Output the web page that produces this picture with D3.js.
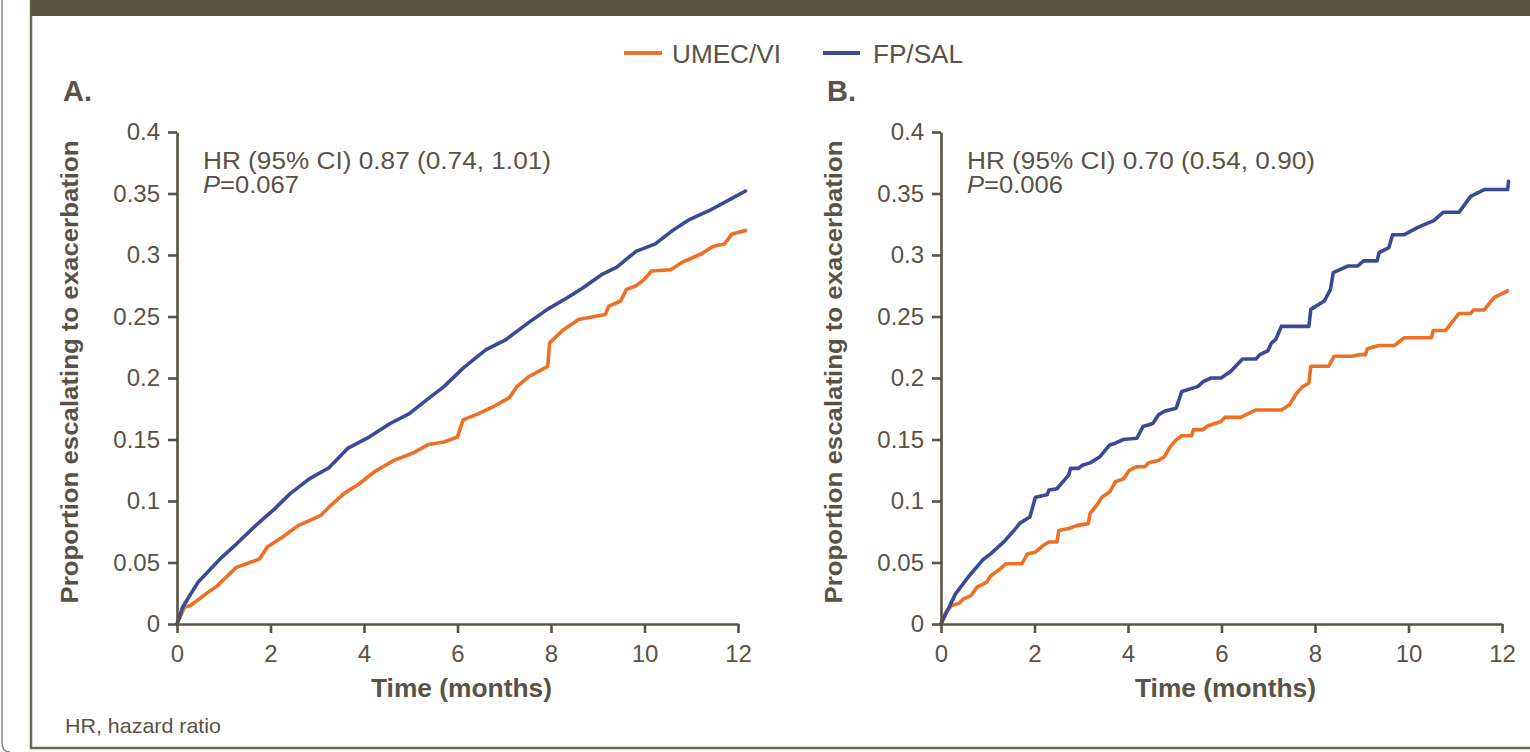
<!DOCTYPE html>
<html>
<head>
<meta charset="utf-8">
<script src="https://cdn.jsdelivr.net/npm/d3@7"></script>
<style>
  html, body { margin: 0; padding: 0; background: #ffffff; }
  svg { display: block; }
  text { font-family: "Liberation Sans", Arial, Helvetica, sans-serif; fill: #595246; }
</style>
</head>
<body>
<svg id="chart" width="1530" height="752"></svg>
<script>
// ---------------- DATA ----------------
const seriesNames = ["UMEC/VI", "FP/SAL"];
const panelLabels = ["A.", "B."];
const hrTexts = ["HR (95% CI) 0.87 (0.74, 1.01)", "HR (95% CI) 0.70 (0.54, 0.90)"];
const pTexts = ["=0.067", "=0.006"];
const xTickValues = [0, 2, 4, 6, 8, 10, 12];
const xTickLabels = ["0", "2", "4", "6", "8", "10", "12"];
const yTickValues = [0, 0.05, 0.1, 0.15, 0.2, 0.25, 0.3, 0.35, 0.4];
const yTickLabels = ["0", "0.05", "0.1", "0.15", "0.2", "0.25", "0.3", "0.35", "0.4"];

// Panel A – FP/SAL
const aFpTime = [0,0.12,0.45,0.95,1.27,1.68,2.1,2.42,2.83,3.25,3.66,4.11,4.56,4.97,5.3,5.71,6.12,6.61,7.03,7.52,7.93,8.34,8.67,9.08,9.4,9.82,10.23,10.64,10.97,11.38,11.87,12.16];
const aFpVal  = [0,0.0136,0.034,0.054,0.065,0.080,0.094,0.106,0.118,0.127,0.143,0.152,0.163,0.171,0.181,0.193,0.208,0.223,0.231,0.245,0.256,0.265,0.273,0.284,0.290,0.303,0.309,0.321,0.329,0.336,0.346,0.352];
// Panel A – UMEC/VI
const aUmTime = [0,0.16,0.29,0.62,0.86,1.27,1.56,1.77,1.93,2.26,2.59,3.08,3.25,3.57,3.9,4.23,4.64,5.05,5.38,5.71,6.0,6.12,6.45,6.78,7.11,7.27,7.52,7.93,7.97,8.26,8.59,9.16,9.24,9.49,9.61,9.82,9.99,10.15,10.56,10.8,11.22,11.46,11.71,11.87,12.16];
const aUmVal  = [0,0.0136,0.015,0.0245,0.031,0.046,0.050,0.053,0.0626,0.0707,0.080,0.0884,0.095,0.106,0.114,0.124,0.133,0.139,0.146,0.148,0.152,0.166,0.171,0.177,0.184,0.193,0.201,0.2095,0.2286,0.239,0.2476,0.2517,0.2585,0.2626,0.272,0.275,0.280,0.287,0.288,0.294,0.301,0.307,0.309,0.317,0.320];
// Panel B – FP/SAL
const bFpTime = [0,0.1,0.31,0.6,0.89,1.06,1.35,1.56,1.69,1.9,2.02,2.27,2.31,2.48,2.73,2.77,2.94,3.02,3.19,3.4,3.61,3.73,3.9,4.19,4.32,4.53,4.65,4.78,5.03,5.15,5.49,5.61,5.78,5.99,6.2,6.45,6.74,6.82,6.99,7.07,7.16,7.28,7.87,7.91,8.2,8.33,8.39,8.7,8.91,9.04,9.33,9.37,9.58,9.66,9.91,10.2,10.54,10.74,11.08,11.33,11.62,12.12,12.14];
const bFpVal  = [0,0.008,0.0245,0.039,0.052,0.057,0.067,0.076,0.082,0.087,0.103,0.105,0.109,0.110,0.121,0.1265,0.1265,0.129,0.131,0.136,0.1456,0.147,0.150,0.151,0.1605,0.163,0.170,0.173,0.1755,0.189,0.193,0.197,0.200,0.200,0.2054,0.2155,0.2155,0.219,0.222,0.2286,0.2313,0.242,0.242,0.2558,0.2626,0.272,0.2857,0.291,0.291,0.2952,0.2952,0.302,0.306,0.3165,0.3165,0.3224,0.328,0.3347,0.3347,0.3477,0.3532,0.3532,0.360];
// Panel B – UMEC/VI
const bUmTime = [0,0.1,0.23,0.39,0.48,0.64,0.77,0.98,1.06,1.27,1.39,1.73,1.85,2.02,2.19,2.31,2.48,2.52,2.73,2.9,3.15,3.19,3.36,3.44,3.61,3.73,3.9,4.03,4.19,4.36,4.44,4.65,4.78,4.9,5.03,5.15,5.36,5.4,5.61,5.7,5.99,6.07,6.41,6.57,6.74,7.28,7.45,7.61,7.74,7.87,7.91,8.29,8.41,8.79,8.96,9.08,9.12,9.37,9.7,9.91,10.49,10.53,10.79,11.08,11.33,11.39,11.62,11.83,12.12];
const bUmVal  = [0,0.0095,0.015,0.0169,0.0204,0.023,0.030,0.034,0.039,0.045,0.049,0.049,0.057,0.0585,0.064,0.0667,0.0667,0.076,0.0776,0.080,0.0816,0.090,0.098,0.103,0.1075,0.1156,0.118,0.125,0.1279,0.1279,0.131,0.133,0.136,0.144,0.1497,0.153,0.153,0.158,0.158,0.161,0.1646,0.168,0.168,0.171,0.174,0.174,0.178,0.1878,0.193,0.196,0.2095,0.2095,0.2177,0.2177,0.219,0.219,0.2237,0.2264,0.2264,0.2327,0.2327,0.2386,0.2386,0.2525,0.2525,0.2553,0.2553,0.2653,0.2708];

const colors = { "UMEC/VI": "#ee7026", "FP/SAL": "#3c4997" };
const inkColor = "#595246";

// ---------------- DRAW ----------------
const svg = d3.select("#chart");

// outer frame line and inner box
svg.append("path")
  .attr("d", "M2,0 L2,742 Q2,752 10,752")
  .attr("fill", "none").attr("stroke", "#8d887d").attr("stroke-width", 1.5);
svg.append("rect")
  .attr("x", 31).attr("y", -10).attr("width", 1520).attr("height", 758)
  .attr("fill", "none").attr("stroke", "#6c6659").attr("stroke-width", 2.5);
svg.append("rect")
  .attr("x", 31).attr("y", 0).attr("width", 1510).attr("height", 16)
  .attr("fill", "#5a5244");

// legend
const legendItems = [
  { name: seriesNames[0], x0: 624, x1: 662, tx: 672, tw: 109 },
  { name: seriesNames[1], x0: 823, x1: 860, tx: 873, tw: 90 }
];
legendItems.forEach(it => {
  svg.append("line")
    .attr("x1", it.x0).attr("x2", it.x1).attr("y1", 53).attr("y2", 53)
    .attr("stroke", colors[it.name]).attr("stroke-width", 4);
  svg.append("text")
    .attr("x", it.tx).attr("y", 63)
    .attr("font-size", 25)
    .attr("textLength", it.tw).attr("lengthAdjust", "spacingAndGlyphs")
    .text(it.name);
});

// footer
svg.append("text")
  .attr("x", 65).attr("y", 733).attr("font-size", 21)
  .attr("textLength", 156).attr("lengthAdjust", "spacingAndGlyphs")
  .text("HR, hazard ratio");

const panels = [
  { left: 177, label: panelLabels[0], hr: hrTexts[0], p: pTexts[0],
    series: [
      { name: "FP/SAL", t: aFpTime, v: aFpVal },
      { name: "UMEC/VI", t: aUmTime, v: aUmVal }
    ] },
  { left: 941, label: panelLabels[1], hr: hrTexts[1], p: pTexts[1],
    series: [
      { name: "FP/SAL", t: bFpTime, v: bFpVal },
      { name: "UMEC/VI", t: bUmTime, v: bUmVal }
    ] }
];

const plotW = 561, plotTop = 132, plotBottom = 624;

panels.forEach(pn => {
  const x = d3.scaleLinear().domain([0, 12]).range([pn.left, pn.left + plotW]);
  const y = d3.scaleLinear().domain([0, 0.4]).range([plotBottom, plotTop]);
  const g = svg.append("g");

  // curves
  const line = d3.line().x(d => x(d[0])).y(d => y(d[1])).curve(d3.curveLinear);
  pn.series.slice().reverse().forEach(s => {
    const pts = s.t.map((t, i) => [t, s.v[i]]);
    g.append("path")
      .datum(pts)
      .attr("d", line)
      .attr("fill", "none")
      .attr("stroke", colors[s.name])
      .attr("stroke-width", 3.6)
      .attr("stroke-linejoin", "round")
      .attr("stroke-linecap", "round");
  });

  // axes
  const yAxis = d3.axisLeft(y)
    .tickValues(yTickValues)
    .tickFormat((d, i) => yTickLabels[i])
    .tickSize(9).tickSizeOuter(0).tickPadding(8);
  const xAxis = d3.axisBottom(x)
    .tickValues(xTickValues)
    .tickFormat((d, i) => xTickLabels[i])
    .tickSize(9).tickSizeOuter(0).tickPadding(12);

  const ya = g.append("g").attr("transform", `translate(${pn.left},0)`).call(yAxis);
  const xa = g.append("g").attr("transform", `translate(0,${plotBottom})`).call(xAxis);
  [ya, xa].forEach(a => {
    a.select(".domain").attr("stroke", inkColor).attr("stroke-width", 2.6);
    a.selectAll(".tick line").attr("stroke", inkColor).attr("stroke-width", 2.6);
    a.selectAll(".tick text")
      .attr("fill", inkColor)
      .style("font-family", '"Liberation Sans", Arial, sans-serif')
      .style("font-size", "24px");
  });

  // panel label
  g.append("text")
    .attr("x", pn.left - 114).attr("y", 101)
    .attr("font-size", 29).attr("font-weight", "bold")
    .text(pn.label);

  // y-axis title
  g.append("text")
    .attr("transform", `translate(${pn.left - 99},372) rotate(-90)`)
    .attr("text-anchor", "middle")
    .attr("font-size", 23).attr("font-weight", "bold")
    .attr("textLength", 463).attr("lengthAdjust", "spacingAndGlyphs")
    .text("Proportion escalating to exacerbation");

  // x-axis title
  g.append("text")
    .attr("x", pn.left + 284.5).attr("y", 697)
    .attr("text-anchor", "middle")
    .attr("font-size", 26).attr("font-weight", "bold")
    .attr("textLength", 181).attr("lengthAdjust", "spacingAndGlyphs")
    .text("Time (months)");

  // HR annotation
  g.append("text")
    .attr("x", pn.left + 26).attr("y", 169)
    .attr("font-size", 23)
    .attr("textLength", 348).attr("lengthAdjust", "spacingAndGlyphs")
    .text(pn.hr);
  const pt = g.append("text")
    .attr("x", pn.left + 26).attr("y", 193)
    .attr("font-size", 23)
    .attr("textLength", 96).attr("lengthAdjust", "spacingAndGlyphs");
  pt.append("tspan").attr("font-style", "italic").text("P");
  pt.append("tspan").text(pn.p);
});
</script>
</body>
</html>
